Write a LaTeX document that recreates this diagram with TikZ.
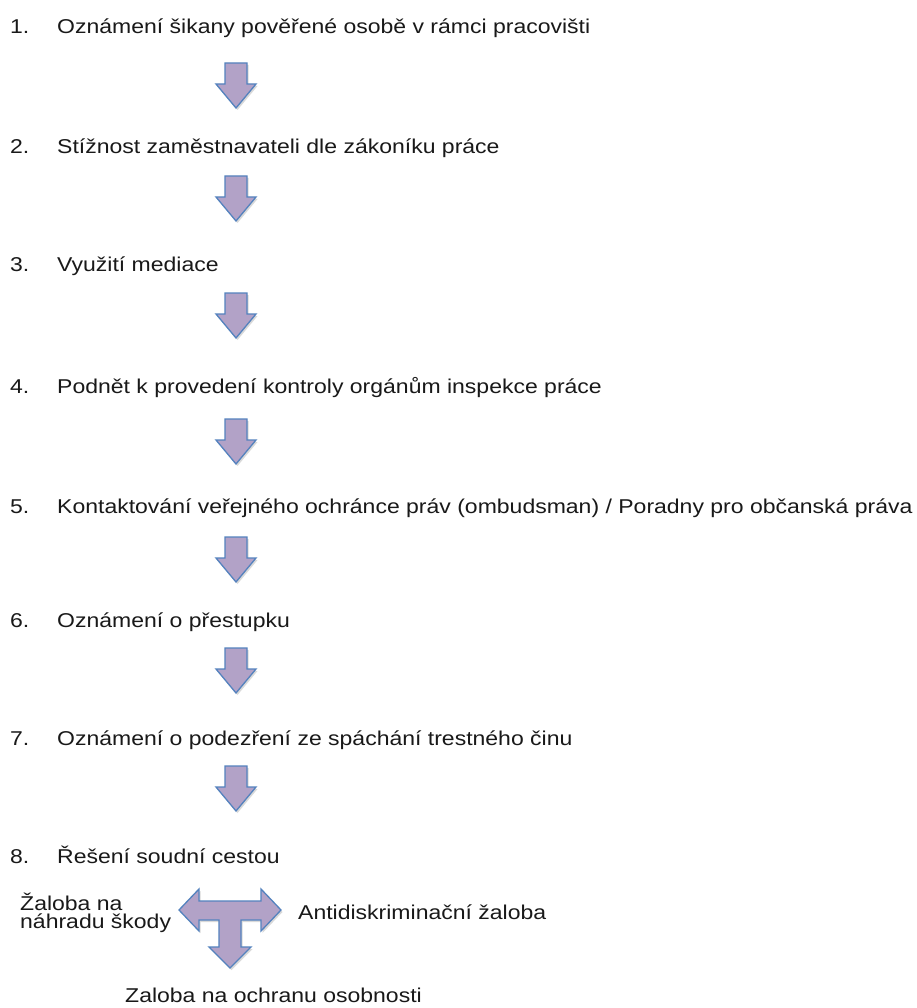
\documentclass[tikz,border=0pt]{standalone}
\usepackage{fontspec}
\setmainfont[FakeStretch=1.15]{Liberation Sans}
\definecolor{afill}{RGB}{178,162,199}
\definecolor{aline}{RGB}{84,130,190}
\begin{document}
\begin{tikzpicture}[x=1pt,y=-1pt,
  txt/.style={inner sep=0pt, font=\fontsize{20}{18}\selectfont, anchor=base west, text=black!90},
  blk/.style={fill=afill, draw=aline, line width=1.3pt, line join=miter},
  shd/.style={fill=black!15, draw=none},
  darrow/.pic={
    \path[shd,shift={(1.5,2)}] (-11,0) -- (11,0) -- (11,21) -- (20,21) -- (0,45) -- (-20,21) -- (-11,21) -- cycle;
    \path[blk] (-11,0) -- (11,0) -- (11,21) -- (20,21) -- (0,45) -- (-20,21) -- (-11,21) -- cycle;
  }]
\useasboundingbox[fill=white] (0,0) rectangle (917,1008);
% items
\node[txt] (n1) at (10,34) {1.};
\node[txt] (t1) at (57,34) {Oznámení šikany pověřené osobě v rámci pracovišti};
\node[txt] (n2) at (10,154) {2.};
\node[txt] (t2) at (57,154) {Stížnost zaměstnavateli dle zákoníku práce};
\node[txt] (n3) at (10,271) {3.};
\node[txt] (t3) at (57,271) {Využití mediace};
\node[txt] (n4) at (10,393) {4.};
\node[txt] (t4) at (57,393) {Podnět k provedení kontroly orgánům inspekce práce};
\node[txt] (n5) at (10,513) {5.};
\node[txt] (t5) at (57,513) {Kontaktování veřejného ochránce práv (ombudsman) / Poradny pro občanská práva};
\node[txt] (n6) at (10,627) {6.};
\node[txt] (t6) at (57,627) {Oznámení o přestupku};
\node[txt] (n7) at (10,745) {7.};
\node[txt] (t7) at (57,745) {Oznámení o podezření ze spáchání trestného činu};
\node[txt] (n8) at (10,863) {8.};
\node[txt] (t8) at (57,863) {Řešení soudní cestou};
% down arrows
\pic at (236,63) {darrow};
\pic at (236,176) {darrow};
\pic at (236,293) {darrow};
\pic at (236,419) {darrow};
\pic at (236,537) {darrow};
\pic at (236,648) {darrow};
\pic at (236,766) {darrow};
% T arrow
\path[shd,shift={(1.5,2)}] (179,910) -- (199,889) -- (199,901) -- (261,901) -- (261,889) -- (281,910) -- (261,931) -- (261,920) -- (241,920) -- (241,947) -- (251,947) -- (230,968) -- (209,947) -- (219,947) -- (219,920) -- (199,920) -- (199,931) -- cycle;
\path[blk] (179,910) -- (199,889) -- (199,901) -- (261,901) -- (261,889) -- (281,910) -- (261,931) -- (261,920) -- (241,920) -- (241,947) -- (251,947) -- (230,968) -- (209,947) -- (219,947) -- (219,920) -- (199,920) -- (199,931) -- cycle;
\node[txt, align=left] (left) at (20,928) {Žaloba na\\náhradu škody};
\node[txt] (right) at (298,919) {Antidiskriminační žaloba};
\node[txt] (bottom) at (125,1002) {Zaloba na ochranu osobnosti};
\end{tikzpicture}
\end{document}
